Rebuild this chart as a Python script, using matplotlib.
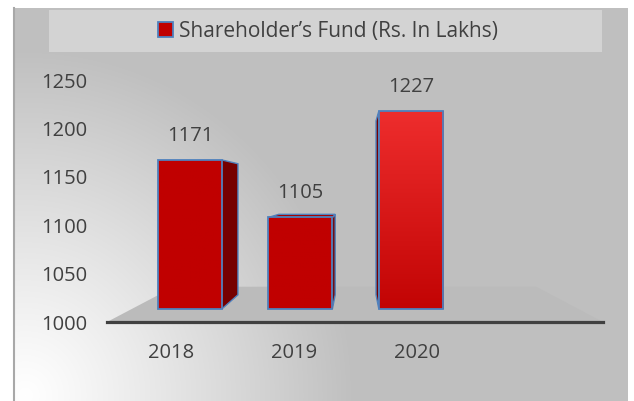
import numpy as np
import matplotlib.pyplot as plt
from matplotlib.patches import Rectangle, Patch
from matplotlib.colors import LinearSegmentedColormap, to_rgb

# data
years = ['2018', '2019', '2020']
funds = [1171, 1105, 1227]
yticks = [1000, 1050, 1100, 1150, 1200, 1250]
series_name = 'Shareholder\u2019s Fund (Rs. In Lakhs)'
top_colors = ['#C00000', '#C00000', '#EE2D2D']
bottom_colors = ['#C00000', '#C00000', '#C20404']

plt.rcParams['font.family'] = ['Open Sans', 'DejaVu Sans']
txt = '#404040'
edge = '#4F81BD'
fs = 14.5

W, H = 634, 401
fig = plt.figure(figsize=(W / 100, H / 100), dpi=100)

# chart area background (pixel coords) with light corner at bottom left
bg = fig.add_axes([0, 0, 1, 1], zorder=0)
bg.set_xlim(0, W)
bg.set_ylim(H, 0)
bg.axis('off')
yy, xx = np.mgrid[8:401, 13:628]
dist = np.hypot(xx - 25, (yy - 395) * 0.95)
t = np.clip(dist / 330, 0, 1) ** 1.1
gray = np.array(to_rgb('#BFBFBF'))
img = (1 - t)[..., None] * np.ones(3) + t[..., None] * gray
bg.imshow(img, extent=(13, 628, 401, 8), aspect='auto', interpolation='bilinear')
bg.plot([13.5, 13.5], [8, 401], color='#A8A8A8', lw=1.5)
bg.add_patch(Rectangle((49, 10), 553, 42, facecolor='#D3D3D3', edgecolor='none'))
bg.set_xlim(0, W)
bg.set_ylim(H, 0)

# main axes, front plane of the 3d box
ax = fig.add_axes([107 / W, 1 - 322 / H, (603 - 107) / W, (322 - 65.5) / H], zorder=1)
ax.patch.set_alpha(0)
xlo, xhi = -0.525, 3.515
vp = (1.5, 1135)


def proj(x, y, d):
    return x + d * (vp[0] - x), y + d * (vp[1] - y)


# floor
fl = [(xlo, 1000), (xhi, 1000), proj(xhi, 1000, 0.27), proj(xlo, 1000, 0.27)]
ax.fill([p[0] for p in fl], [p[1] for p in fl], color='#BBBBBB', lw=0, zorder=1)

bw = 0.58
for i, v in enumerate(funds):
    fx0, fb = proj(i - bw / 2, 1000, 0.1)
    fx1, ft = proj(i + bw / 2, v, 0.1)
    # side face
    sx = fx1 if fx1 < vp[0] else fx0
    side = [(sx, fb), (sx, ft), proj(sx, ft, 0.12), proj(sx, fb, 0.12)]
    ax.fill([p[0] for p in side], [p[1] for p in side], facecolor='#760000',
            edgecolor=edge, lw=1.0, zorder=2)
    if ft < vp[1]:
        top = [(fx0, ft), (fx1, ft), proj(fx1, ft, 0.12), proj(fx0, ft, 0.12)]
        ax.fill([p[0] for p in top], [p[1] for p in top], facecolor='#A80000',
                edgecolor=edge, lw=1.0, zorder=2)
    cx = (fx0 + fx1) / 2
    bar = ax.bar(cx, ft - fb, width=fx1 - fx0, bottom=fb, color=bottom_colors[i],
                 lw=0, zorder=3)[0]
    cm = LinearSegmentedColormap.from_list('g', [bottom_colors[i], top_colors[i]])
    im = ax.imshow(np.linspace(0, 1, 100)[:, None], extent=(fx0, fx1, fb, ft), origin='lower',
                   cmap=cm, aspect='auto', zorder=3.1)
    im.set_clip_path(bar)
    ax.bar(cx, ft - fb, width=fx1 - fx0, bottom=fb, fill=False, edgecolor=edge,
           lw=1.3, zorder=3.2)
    ax.annotate(str(v), (cx, ft), xytext=(0, 17.3), textcoords='offset points',
                ha='center', va='center', fontsize=fs, color=txt)

ax.set_xlim(xlo, xhi)
ax.set_ylim(1000, 1265)
ax.set_xticks(range(len(years)))
ax.set_xticklabels(years)
ax.set_yticks(yticks)
ax.tick_params(length=0, labelsize=fs, colors=txt)
ax.tick_params(axis='y', pad=14)
ax.tick_params(axis='x', pad=15)
for s in ['left', 'top', 'right']:
    ax.spines[s].set_visible(False)
ax.spines['bottom'].set_color('#404040')
ax.spines['bottom'].set_linewidth(2.3)
ax.spines['bottom'].set_zorder(4)

fig.legend(handles=[Patch(facecolor='#C00000', edgecolor=edge, lw=1.3)], labels=[series_name],
           loc='center', bbox_to_anchor=(328 / W, 1 - 31.5 / H), frameon=False,
           fontsize=15, labelcolor=txt, handlelength=0.72, handleheight=0.72,
           handletextpad=0.3, borderpad=0)

fig.savefig('out.png', dpi=100)
